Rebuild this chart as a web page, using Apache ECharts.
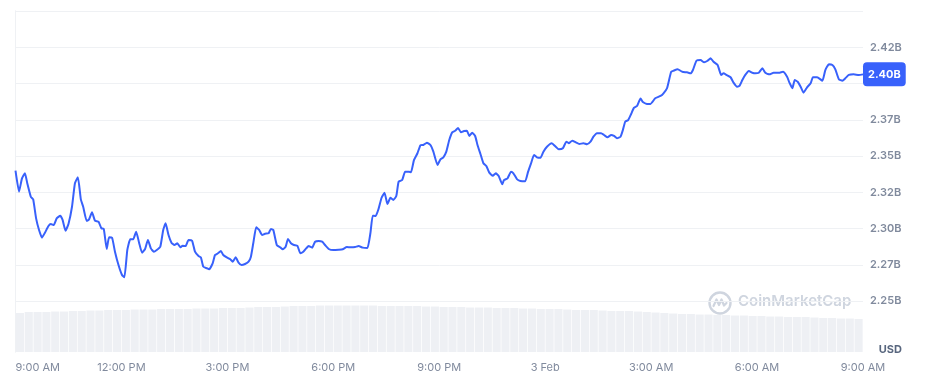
<!DOCTYPE html>
<html>
<head>
<meta charset="utf-8">
<script src="https://cdn.jsdelivr.net/npm/echarts@6/dist/echarts.min.js"></script>
<style>
html,body{margin:0;padding:0;background:#fff;}
#chart{width:930px;height:384px;}
</style>
</head>
<body>
<div id="chart"></div>
<script>
// minutes since 9:00 AM (2 Feb)
const times = [
 0,6,11,16,20,26,30,35,40,45,50,56,60,65,70,76,80,85,90,96,
 101,106,111,115,121,125,130,135,141,146,150,155,159,164,169,175,181,185,190,195,
 200,205,210,215,220,225,230,235,240,246,251,255,260,265,270,275,280,284,289,294,
 300,305,311,315,319,325,329,335,339,344,349,353,359,365,
 369,374,379,384,390,396,400,404,409,414,419,424,430,434,438,444,450,454,459,463,
 468,473,479,484,489,494,498,504,509,515,521,526,533,540,549,556,563,570,577,583,
 590,598,603,607,612,617,622,627,632,637,642,647,651,657,662,668,672,677,683,688,
 693,699,705,710,
 717,722,727,732,737,742,747,752,757,762,767,771,776,781,785,790,795,800,805,811,
 816,821,827,830,836,842,846,852,858,866,871,876,881,886,892,897,903,911,918,923,
 930,936,940,946,952,958,965,971,977,982,988,995,1000,1006,1012,1017,1022,1028,
 1032,1036,1041,1046,1051,1056,1062,1066,1073,1079,1087,1096,1101,1107,1114,1118,1125,1133,1141,1147,
 1151,1157,1164,1170,1176,1181,1186,1193,1199,1203,1208,1215,1220,1226,1230,1235,1240,1246,1252,1257,
 1263,1269,1274,1281,1288,1297,1304,1311,1315,1320,1324,1329,1334,1339,1345,1351,1355,1362,1371,1376,
 1382,1388,1393,1399,1405,1410,1416,1424,1433,1440
];
// market cap, billions USD
const prices = [
 2.3399,2.3254,2.3346,2.3381,2.3312,2.3219,2.3201,2.3070,2.2990,2.2937,2.2971,2.3017,2.3031,2.3024,2.3070,2.3088,2.3059,2.2985,2.3031,2.3150,
 2.3312,2.3353,2.3201,2.3150,2.3052,2.3063,2.3112,2.3054,2.3047,2.3001,2.2997,2.2859,2.2939,2.2937,2.2840,2.2748,2.2679,2.2663,2.2852,2.2926,
 2.2926,2.2978,2.2902,2.2833,2.2857,2.2921,2.2863,2.2840,2.2852,2.2874,2.2990,2.3036,2.2955,2.2902,2.2886,2.2898,2.2870,2.2881,2.2879,2.2921,
 2.2916,2.2840,2.2810,2.2801,2.2737,2.2726,2.2719,2.2760,2.2817,2.2829,2.2845,2.2817,2.2801,2.2788,
 2.2771,2.2801,2.2764,2.2748,2.2755,2.2771,2.2806,2.2898,2.3008,2.2990,2.2955,2.2964,2.2967,2.2997,2.2990,2.2886,2.2870,2.2857,2.2874,2.2928,
 2.2898,2.2886,2.2881,2.2829,2.2840,2.2863,2.2879,2.2868,2.2909,2.2914,2.2909,2.2886,2.2857,2.2852,2.2854,2.2857,2.2872,2.2870,2.2872,2.2879,
 2.2868,2.2866,2.2967,2.3088,2.3086,2.3137,2.3212,2.3247,2.3169,2.3212,2.3197,2.3224,2.3323,2.3334,2.3392,2.3392,2.3388,2.3472,2.3519,2.3574,
 2.3576,2.3592,2.3576,2.3530,
 2.3438,2.3477,2.3491,2.3530,2.3610,2.3663,2.3674,2.3693,2.3663,2.3672,2.3674,2.3638,2.3661,2.3638,2.3576,2.3514,2.3450,2.3431,2.3385,2.3364,
 2.3381,2.3362,2.3305,2.3334,2.3346,2.3392,2.3381,2.3341,2.3328,2.3326,2.3392,2.3450,2.3507,2.3491,2.3488,2.3530,2.3564,2.3588,2.3564,2.3546,
 2.3553,2.3599,2.3588,2.3606,2.3594,2.3583,2.3588,2.3581,2.3599,2.3633,2.3657,2.3657,2.3645,2.3629,2.3645,2.3638,2.3622,2.3633,
 2.3679,2.3737,2.3748,2.3790,2.3833,2.3845,2.3897,2.3872,2.3859,2.3859,2.3898,2.3914,2.3932,2.3967,2.4081,2.4088,2.4098,2.4081,2.4077,2.4070,
 2.4093,2.4157,2.4162,2.4146,2.4157,2.4174,2.4150,2.4128,2.4059,2.4070,2.4059,2.4043,2.4006,2.3978,2.3983,2.4024,2.4059,2.4086,2.4074,2.4070,
 2.4074,2.4105,2.4074,2.4063,2.4074,2.4074,2.4081,2.4047,2.4006,2.3967,2.4024,2.4012,2.3978,2.3937,2.3974,2.4001,2.4043,2.4043,2.4019,2.4093,
 2.4132,2.4128,2.4098,2.4029,2.4019,2.4036,2.4059,2.4063,2.4059,2.4063
];
// volume per 15-minute slot (relative units)
const volumes = [
 39,40,40,40,40.5,40.5,41,41,41.5,41.5,42,42,
 42,42.5,42.5,42.5,43,43,43,43,43.5,43.5,43.5,44,
 44,44,44.5,45,45,45,45.5,46,46,46,46.5,46.5,
 46.5,46.5,46.5,46.5,46.5,46,46,46,46,46,45.5,45.5,
 45,45,45,44.5,44.5,44.5,44,44,44,43.5,43.5,43,
 43,43,42.5,42,42,42,41.5,41,41,41,40.5,40,
 39.5,39,38.5,38,38,37.5,37.5,37,37,36.5,36.5,36,
 36,35.5,35.5,35,35,35,34.5,34,34,33.5,33.5,33
];
const tickLabels = ['9:00 AM','12:00 PM','3:00 PM','6:00 PM','9:00 PM','3 Feb','3:00 AM','6:00 AM','9:00 AM'];
const yTicks = {min: 2.25, max: 2.45, interval: 0.025};

const lineData = times.map((t, i) => [t, prices[i]]);
const volCats = volumes.map((v, i) => i);
const lastPrice = prices[prices.length - 1];
const trunc2 = v => (Math.floor(v * 100 + 1e-6) / 100).toFixed(2) + 'B';

const FONT = 'Inter, "Noto Sans", sans-serif';
const GRID_LINE = '#eff1f4';
const BLUE = '#3861fb';

const chart = echarts.init(document.getElementById('chart'), null, {renderer: 'canvas'});
chart.setOption({
  animation: false,
  backgroundColor: '#ffffff',
  grid: [
    {left: 15.5, right: 67, top: 11, bottom: 83},
    {left: 15.5, right: 67, top: 301, bottom: 32}
  ],
  xAxis: [
    {gridIndex: 0, type: 'value', min: 0, max: 1440, show: false},
    {gridIndex: 1, type: 'category', data: volCats, show: false, boundaryGap: true},
    {gridIndex: 1, type: 'value', min: 0, max: 1440, interval: 180, position: 'bottom',
     axisLine: {show: false}, axisTick: {show: false}, splitLine: {show: false},
     axisLabel: {
       margin: 10, color: '#808a9d', fontSize: 11, fontFamily: FONT,
       alignMinLabel: 'left', showMinLabel: true, showMaxLabel: true,
       formatter: v => tickLabels[Math.round(v / 180)] || ''
     }}
  ],
  yAxis: [
    {gridIndex: 0, type: 'value', position: 'right', min: yTicks.min, max: yTicks.max, interval: yTicks.interval,
     axisLine: {show: true, lineStyle: {color: GRID_LINE, width: 1}},
     axisTick: {show: false},
     splitLine: {show: true, lineStyle: {color: GRID_LINE, width: 1}},
     axisLabel: {
       margin: 7, color: '#808a9d', fontSize: 11, fontWeight: 600, fontFamily: FONT,
       showMaxLabel: false,
       formatter: v => (Math.abs(v - lastPrice) < 0.012 || v >= yTicks.max - 1e-9) ? '' : trunc2(v)
     }},
    {gridIndex: 0, type: 'value', position: 'left', min: yTicks.min, max: yTicks.max,
     axisLine: {show: true, lineStyle: {color: GRID_LINE, width: 1}},
     axisTick: {show: false}, axisLabel: {show: false}, splitLine: {show: false}},
    {gridIndex: 1, type: 'value', position: 'right', min: 0, max: 51,
     axisLine: {show: true, lineStyle: {color: GRID_LINE, width: 1}},
     axisTick: {show: false}, axisLabel: {show: false}, splitLine: {show: false}},
    {gridIndex: 1, type: 'value', position: 'left', min: 0, max: 51,
     axisLine: {show: true, lineStyle: {color: GRID_LINE, width: 1}},
     axisTick: {show: false}, axisLabel: {show: false}, splitLine: {show: false}}
  ],
  series: [
    {
      type: 'bar', xAxisIndex: 1, yAxisIndex: 2, data: volumes,
      barCategoryGap: '8%', itemStyle: {color: '#eef0f4'}, silent: true
    },
    {
      type: 'line', xAxisIndex: 0, yAxisIndex: 0, data: lineData,
      showSymbol: false, symbol: 'none', smooth: 0.15,
      lineStyle: {color: BLUE, width: 2},
      endLabel: {
        show: true, distance: 0,
        formatter: p => trunc2(p.value[1]),
        backgroundColor: BLUE, color: '#ffffff', fontWeight: 700, fontSize: 11, fontFamily: FONT,
        padding: [7, 5, 6, 5], borderRadius: 4
      },
      z: 5
    }
  ],
  graphic: [
    {type: 'text', right: 28, top: 344,
     style: {text: 'USD', fill: '#58667e', font: '700 11px ' + FONT}},
    {type: 'group', left: 707, top: 290, children: [
      {type: 'circle', shape: {cx: 12, cy: 12, r: 10.5},
       style: {fill: 'none', stroke: '#cfd5df', lineWidth: 2.4}},
      {type: 'polyline', shape: {points: [[5.5, 15], [8.5, 8.5], [11, 14], [13.5, 8.5], [16, 14.5], [18.5, 12]]},
       style: {fill: 'none', stroke: '#cfd5df', lineWidth: 2.2, lineJoin: 'round', lineCap: 'round'}},
      {type: 'text', x: 30, y: 3,
       style: {text: 'CoinMarketCap', fill: '#cfd5df', font: '600 15px ' + FONT}}
    ]}
  ]
});
</script>
</body>
</html>
